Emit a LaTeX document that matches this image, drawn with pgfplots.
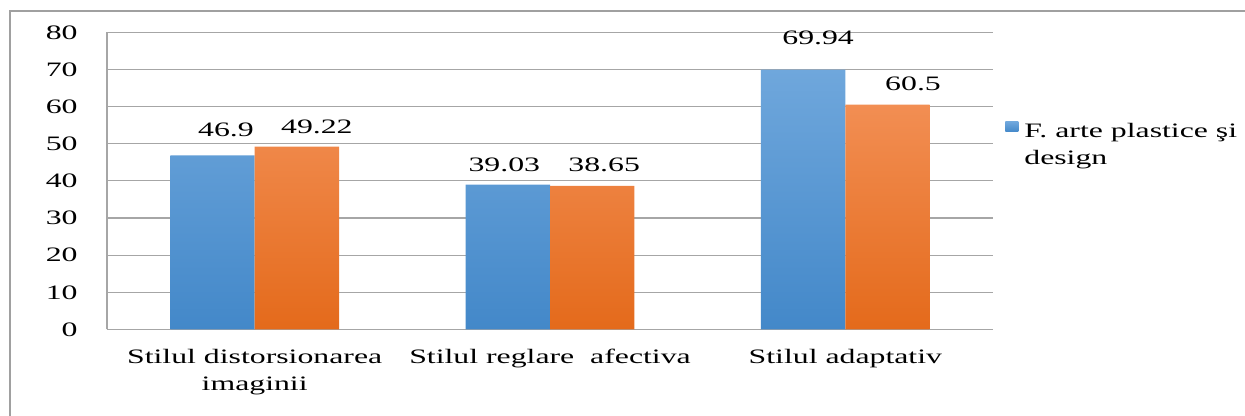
\documentclass[border=0pt]{standalone}
\usepackage{fontspec}
\setmainfont{Liberation Serif}
\usepackage{graphicx}
\usepackage{pgfplots}
\usepackage{pgfplotstable}
\pgfplotsset{compat=1.18}
\definecolor{blueT}{HTML}{6FA7DC}
\definecolor{blueB}{HTML}{4388C9}
\definecolor{oraT}{HTML}{F28E53}
\definecolor{oraB}{HTML}{E46A1B}
\definecolor{gridc}{HTML}{A6A6A6}
\definecolor{framec}{HTML}{A0A0A0}
\newcommand{\cf}{\fontsize{10.25pt}{13.5pt}\selectfont}
\newcommand{\W}[1]{\scalebox{1.55}[1]{#1}}
\pgfplotstableread{
x y lab dx dy
1 46.9 46.9 6.75 9.15
2 39.03 39.03 -1.75 6.75
3 69.94 69.94 7.5 12.35
}\blueData
\pgfplotstableread{
x y lab dx dy
1 49.22 49.22 10 6.8
2 38.65 38.65 6 7.25
3 60.5 60.5 12.75 7.35
}\orangeData
\begin{document}
\begin{tikzpicture}
\begin{axis}[
  scale only axis, width=443pt, height=148.6pt,
  xmin=0.5, xmax=3.5, ymin=0, ymax=80,
  ytick={0,10,...,80},
  yticklabel={\W{\pgfmathprintnumber[assume math mode=true]{\tick}}},
  xtick={1,2,3},
  xticklabels={{\W{Stilul distorsionarea}\\\W{imaginii}},{\W{Stilul reglare~ afectiva}},{\W{Stilul adaptativ}}},
  axis x line*=bottom, axis y line*=left,
  axis line style={gridc, line width=0.6pt},
  ymajorgrids, grid style={gridc, line width=0.6pt},
  major tick length=0pt,
  yticklabel style={font=\cf, anchor=east, inner sep=0pt, xshift=-14.5pt},
  xticklabel style={font=\cf, align=center, anchor=north, inner sep=0pt, yshift=-9.75pt},
  ybar=0pt, bar width=42.2pt,
  point meta=explicit symbolic,
  nodes near coords={\W{\pgfplotspointmeta}},
  visualization depends on={\thisrow{dx} \as \dx},
  visualization depends on={\thisrow{dy} \as \dy},
  nodes near coords style={font=\cf, anchor=base, inner sep=0pt, xshift=\dx pt, yshift=\dy pt, text=black},
  legend style={at={(axis description cs:1.0135,0.70)}, anchor=north west, draw=none, fill=none,
    inner sep=0pt, nodes={inner sep=0pt, align=left, font=\cf},
    /tikz/every odd column/.append style={column sep=3pt}},
  legend image code/.code={\path[draw=none, top color=blueT, bottom color=blueB] (0pt,7pt) rectangle (6.5pt,12pt);},
]
\addplot[draw=none, top color=blueT, bottom color=blueB] table[x=x, y=y, meta=lab] {\blueData};
\addlegendentry{\W{F. arte plastice ş{}i}\\\W{design}}
\addplot[draw=none, top color=oraT, bottom color=oraB] table[x=x, y=y, meta=lab] {\orangeData};
\end{axis}
\draw[framec, line width=0.75pt] (-48.5pt,-60pt) -- (-48.5pt,159.25pt) -- (600pt,159.25pt);
\pgfresetboundingbox
\useasboundingbox (-53.5pt,-43.25pt) rectangle (569pt,164.75pt);
\end{tikzpicture}
\end{document}
